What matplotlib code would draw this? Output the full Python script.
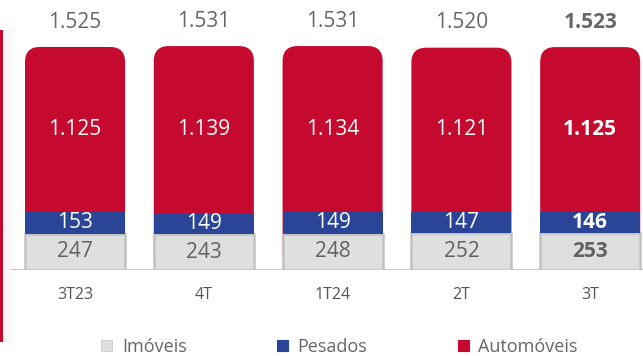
import numpy as np
import matplotlib.pyplot as plt
from matplotlib.patches import FancyBboxPatch, Rectangle

plt.rcParams['font.family'] = ['Open Sans', 'DejaVu Sans']

quarters = ['3T23', '4T', '1T24', '2T', '3T']
imoveis = [247, 243, 248, 252, 253]
pesados = [153, 149, 149, 147, 146]
automoveis = [1125, 1139, 1134, 1121, 1125]
totals = [1525, 1531, 1531, 1520, 1523]
total_labels = ['1.525', '1.531', '1.531', '1.520', '1.523']
auto_labels = ['1.125', '1.139', '1.134', '1.121', '1.125']

RED = '#c60a2f'
BLUE = '#2a4597'
GREY = '#dfdfdf'
GREY_EDGE = '#c2c2c2'
TEXT = '#666666'

W, H = 643, 356
fig = plt.figure(figsize=(W / 100, H / 100), dpi=100)

# plot area: baseline at 270 px from the top, spanning nearly the full width
ax = fig.add_axes([10 / W, (H - 270) / H, (W - 10) / W, 270 / H])
x = np.arange(len(quarters))
width = 0.777
xlim = (-0.505, 4.41)
ylim = (0, 1846)
ax.set_xlim(*xlim)
ax.set_ylim(*ylim)

# pixel scale for the rounded tops
px_x = (xlim[1] - xlim[0]) / (W - 10)
px_y = (ylim[1] - ylim[0]) / 270
radius = 15 * px_x

imo = np.array(imoveis)
pes = np.array(pesados)
for i in range(len(quarters)):
    bold = 'bold' if i == len(quarters) - 1 else 'normal'
    left = x[i] - width / 2
    # red segment drawn from the baseline; lower segments cover its bottom
    top = imo[i] + pes[i] + automoveis[i]
    ax.add_patch(FancyBboxPatch((left, 0), width, top,
                                boxstyle=f'round,pad=0,rounding_size={radius}',
                                mutation_aspect=px_y / px_x,
                                facecolor=RED, edgecolor='none', zorder=2))
    ax.text(x[i], imo[i] + pes[i] + automoveis[i] / 2, auto_labels[i],
            ha='center', va='center', color='white', fontsize=15,
            fontweight=bold, zorder=5)
    ax.text(x[i], top + 170, total_labels[i], ha='center', va='center',
            color=TEXT, fontsize=15, fontweight=bold, zorder=5)

ax.bar(x, imo, width, color=GREY, edgecolor=GREY_EDGE, linewidth=1.8, zorder=3)
ax.bar(x, pes, width, bottom=imo, color=BLUE, zorder=4)

for i in range(len(quarters)):
    bold = 'bold' if i == len(quarters) - 1 else 'normal'
    ax.text(x[i], imo[i] + pes[i] / 2, str(pesados[i]), ha='center',
            va='center', color='white', fontsize=15, fontweight=bold, zorder=5)
    ax.text(x[i], imo[i] / 2, str(imoveis[i]), ha='center', va='center',
            color='#616161', fontsize=15, fontweight=bold, zorder=5)

ax.axhline(0, color='#c8c8c8', linewidth=1.5, zorder=1)
ax.set_xticks(x)
ax.set_xticklabels(quarters, fontsize=11.5, color='#555555')
ax.tick_params(axis='x', length=0, pad=12)
ax.set_yticks([])
for side in ax.spines.values():
    side.set_visible(False)
ax.patch.set_alpha(0)

# legend
handles = [Rectangle((0, 0), 1, 1, facecolor=c, edgecolor=e, linewidth=0.8)
           for c, e in [(GREY, '#d0d0d0'), (BLUE, BLUE), (RED, RED)]]
fig.legend(handles, ['Imóveis', 'Pesados', 'Automóveis'],
           loc='center', bbox_to_anchor=(0.528, (H - 347) / H), ncol=3,
           frameon=False, fontsize=13, labelcolor='#666666',
           handlelength=0.6, handleheight=0.6, handletextpad=0.55,
           columnspacing=5.0)

# red card edge on the left with a soft shadow
fig.patches.append(Rectangle((0, (H - 342) / H), 3 / W, 312 / H,
                             transform=fig.transFigure, facecolor=RED,
                             edgecolor='none', zorder=0))
shade = fig.add_axes([3 / W, (H - 342) / H, 14 / W, 312 / H], zorder=-1)
shade.imshow(np.linspace(0.10, 0, 30)[None, :], cmap='Greys', vmin=0, vmax=1,
             aspect='auto', extent=(0, 1, 0, 1))
shade.set_axis_off()

fig.savefig('out.png', dpi=100)
